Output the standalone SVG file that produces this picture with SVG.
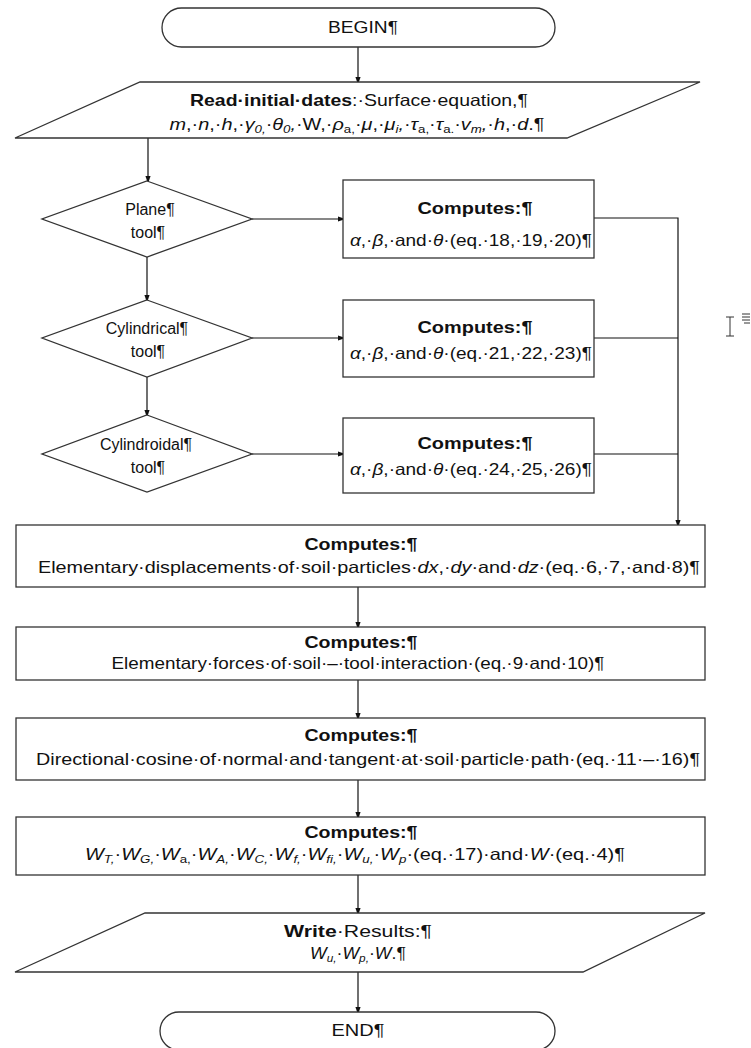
<svg xmlns="http://www.w3.org/2000/svg" width="751" height="1048" viewBox="0 0 751 1048">
<style>
.s{fill:#fff;stroke:#333;stroke-width:1.3}
.c{fill:none;stroke:#111;stroke-width:1.2}
text{font-family:"Liberation Sans",Arial,sans-serif;font-size:16.5px;fill:#111;text-anchor:middle}
.b{font-weight:bold}
.i{font-style:italic}
.sub{font-size:11px}
.d{font-size:16px}
</style>
<defs>
<marker id="ah" markerWidth="8" markerHeight="12" refX="8" refY="4" orient="auto" markerUnits="userSpaceOnUse" viewBox="0 0 12 8">
<path d="M0,0 L12,4 L0,8 Z" fill="#111"/>
</marker>
</defs>
<rect width="751" height="1048" fill="#fff"/>
<g id="connectors">
<line class="c" x1="358" y1="47" x2="358" y2="82" marker-end="url(#ah)"/>
<line class="c" x1="148" y1="138" x2="148" y2="181" marker-end="url(#ah)"/>
<line class="c" x1="147" y1="257" x2="147" y2="300" marker-end="url(#ah)"/>
<line class="c" x1="147" y1="377" x2="147" y2="415" marker-end="url(#ah)"/>
<line class="c" x1="252" y1="219" x2="343" y2="219" marker-end="url(#ah)"/>
<line class="c" x1="252" y1="338" x2="343" y2="338" marker-end="url(#ah)"/>
<line class="c" x1="252" y1="454" x2="343" y2="454" marker-end="url(#ah)"/>
<polyline class="c" points="594,218 678,218 678,525" marker-end="url(#ah)"/>
<line class="c" x1="594" y1="338" x2="678" y2="338"/>
<line class="c" x1="594" y1="454" x2="678" y2="454"/>
<line class="c" x1="358" y1="587" x2="358" y2="627" marker-end="url(#ah)"/>
<line class="c" x1="358" y1="680" x2="358" y2="718" marker-end="url(#ah)"/>
<line class="c" x1="358" y1="780" x2="358" y2="817" marker-end="url(#ah)"/>
<line class="c" x1="358" y1="875" x2="358" y2="913" marker-end="url(#ah)"/>
<line class="c" x1="358" y1="972" x2="358" y2="1012" marker-end="url(#ah)"/>
</g>
<g id="begin">
<rect class="s" x="162" y="8" width="393" height="39" rx="19.5"/>
<text x="363" y="33" textLength="70" lengthAdjust="spacingAndGlyphs">BEGIN¶</text>
</g>
<g id="read">
<polygon class="s" points="140,82 700,82 567,138 15,138"/>
<text x="359" y="106" textLength="338" lengthAdjust="spacingAndGlyphs"><tspan class="b">Read·initial·dates</tspan>:·Surface·equation,¶</text>
<text x="357" y="130" textLength="375" lengthAdjust="spacingAndGlyphs"><tspan class="i">m</tspan>,·<tspan class="i">n</tspan>,·<tspan class="i">h</tspan>,·<tspan class="i">γ</tspan><tspan class="i sub" dy="3">0,</tspan><tspan dy="-3">·</tspan><tspan class="i">θ</tspan><tspan class="i sub" dy="3">0</tspan><tspan class="i" dy="-3">,</tspan>·W,·<tspan class="i">ρ</tspan><tspan class="sub" dy="3">a,</tspan><tspan dy="-3">·</tspan><tspan class="i">μ</tspan>,·<tspan class="i">μ</tspan><tspan class="i sub" dy="3">i</tspan><tspan class="i" dy="-3">,</tspan>·<tspan class="i">τ</tspan><tspan class="sub" dy="3">a,</tspan><tspan dy="-3">·</tspan><tspan class="i">τ</tspan><tspan class="sub" dy="3">a.</tspan><tspan dy="-3">·</tspan><tspan class="i">v</tspan><tspan class="i sub" dy="3">m</tspan><tspan class="i" dy="-3">,</tspan>·<tspan class="i">h</tspan>,·<tspan class="i">d</tspan>.¶</text>
</g>
<g id="plane">
<polygon class="s" points="147,181 252,219 147,257 42,219"/>
<text class="d" x="150" y="215">Plane¶</text>
<text class="d" x="148" y="238">tool¶</text>
</g>
<g id="cylindrical">
<polygon class="s" points="147,300 252,338 147,377 42,338"/>
<text class="d" x="147" y="334">Cylindrical¶</text>
<text class="d" x="148" y="357">tool¶</text>
</g>
<g id="cylindroidal">
<polygon class="s" points="147,415 252,454 147,492 42,454"/>
<text class="d" x="146" y="450">Cylindroidal¶</text>
<text class="d" x="148" y="473">tool¶</text>
</g>
<g id="computes1">
<rect class="s" x="343" y="180" width="251" height="78"/>
<text x="475" y="214" class="b" textLength="115" lengthAdjust="spacingAndGlyphs">Computes:¶</text>
<text x="471" y="246" textLength="242" lengthAdjust="spacingAndGlyphs"><tspan class="i">α</tspan>,·<tspan class="i">β</tspan>,·and·<tspan class="i">θ</tspan>·(eq.·18,·19,·20)¶</text>
</g>
<g id="computes2">
<rect class="s" x="343" y="300" width="251" height="77"/>
<text x="475" y="333" class="b" textLength="115" lengthAdjust="spacingAndGlyphs">Computes:¶</text>
<text x="471" y="359" textLength="242" lengthAdjust="spacingAndGlyphs"><tspan class="i">α</tspan>,·<tspan class="i">β</tspan>,·and·<tspan class="i">θ</tspan>·(eq.·21,·22,·23)¶</text>
</g>
<g id="computes3">
<rect class="s" x="343" y="418" width="251" height="75"/>
<text x="475" y="449" class="b" textLength="115" lengthAdjust="spacingAndGlyphs">Computes:¶</text>
<text x="471" y="475" textLength="242" lengthAdjust="spacingAndGlyphs"><tspan class="i">α</tspan>,·<tspan class="i">β</tspan>,·and·<tspan class="i">θ</tspan>·(eq.·24,·25,·26)¶</text>
</g>
<g id="displacements">
<rect class="s" x="16" y="525" width="689" height="62"/>
<text x="361" y="550" class="b" textLength="113" lengthAdjust="spacingAndGlyphs">Computes:¶</text>
<text x="369" y="573" textLength="662" lengthAdjust="spacingAndGlyphs">Elementary·displacements·of·soil·particles·<tspan class="i">dx</tspan>,·<tspan class="i">dy</tspan>·and·<tspan class="i">dz</tspan>·(eq.·6,·7,·and·8)¶</text>
</g>
<g id="forces">
<rect class="s" x="16" y="627" width="689" height="53"/>
<text x="361" y="648" class="b" textLength="113" lengthAdjust="spacingAndGlyphs">Computes:¶</text>
<text x="358" y="669" textLength="493" lengthAdjust="spacingAndGlyphs">Elementary·forces·of·soil·–·tool·interaction·(eq.·9·and·10)¶</text>
</g>
<g id="cosine">
<rect class="s" x="16" y="718" width="689" height="62"/>
<text x="361" y="741" class="b" textLength="113" lengthAdjust="spacingAndGlyphs">Computes:¶</text>
<text x="368" y="765" textLength="664" lengthAdjust="spacingAndGlyphs">Directional·cosine·of·normal·and·tangent·at·soil·particle·path·(eq.·11·–·16)¶</text>
</g>
<g id="works">
<rect class="s" x="16" y="817" width="689" height="58"/>
<text x="361" y="838" class="b" textLength="113" lengthAdjust="spacingAndGlyphs">Computes:¶</text>
<text x="355" y="860" textLength="540" lengthAdjust="spacingAndGlyphs"><tspan class="i">W</tspan><tspan class="i sub" dy="3">T,</tspan><tspan dy="-3">·</tspan><tspan class="i">W</tspan><tspan class="i sub" dy="3">G,</tspan><tspan dy="-3">·</tspan><tspan class="i">W</tspan><tspan class="sub" dy="3">a,</tspan><tspan dy="-3">·</tspan><tspan class="i">W</tspan><tspan class="i sub" dy="3">A,</tspan><tspan dy="-3">·</tspan><tspan class="i">W</tspan><tspan class="i sub" dy="3">C,</tspan><tspan dy="-3">·</tspan><tspan class="i">W</tspan><tspan class="i sub" dy="3">f,</tspan><tspan dy="-3">·</tspan><tspan class="i">W</tspan><tspan class="i sub" dy="3">fi,</tspan><tspan dy="-3">·</tspan><tspan class="i">W</tspan><tspan class="i sub" dy="3">u,</tspan><tspan dy="-3">·</tspan><tspan class="i">W</tspan><tspan class="i sub" dy="3">p</tspan><tspan dy="-3">·(eq.·17)·and·</tspan><tspan class="i">W</tspan>·(eq.·4)¶</text>
</g>
<g id="write">
<polygon class="s" points="145,913 705,913 583,972 15,972"/>
<text x="358" y="937" textLength="148" lengthAdjust="spacingAndGlyphs"><tspan class="b">Write</tspan>·Results:¶</text>
<text x="358" y="959" textLength="96" lengthAdjust="spacingAndGlyphs"><tspan class="i">W</tspan><tspan class="i sub" dy="3">u,</tspan><tspan dy="-3">·</tspan><tspan class="i">W</tspan><tspan class="i sub" dy="3">p,</tspan><tspan dy="-3">·</tspan><tspan class="i">W</tspan>.¶</text>
</g>
<g id="end">
<rect class="s" x="160" y="1012" width="395" height="38" rx="19"/>
<text x="358" y="1036" textLength="53" lengthAdjust="spacingAndGlyphs">END¶</text>
</g>
<g id="cursor" stroke="#333" stroke-width="1" fill="none">
<path d="M730,317 V336 M726,317 H734 M726,336 H734"/>
<path d="M742,314 H750 M742,317 H750 M742,320 H750 M744,323 H750"/>
</g>
</svg>
